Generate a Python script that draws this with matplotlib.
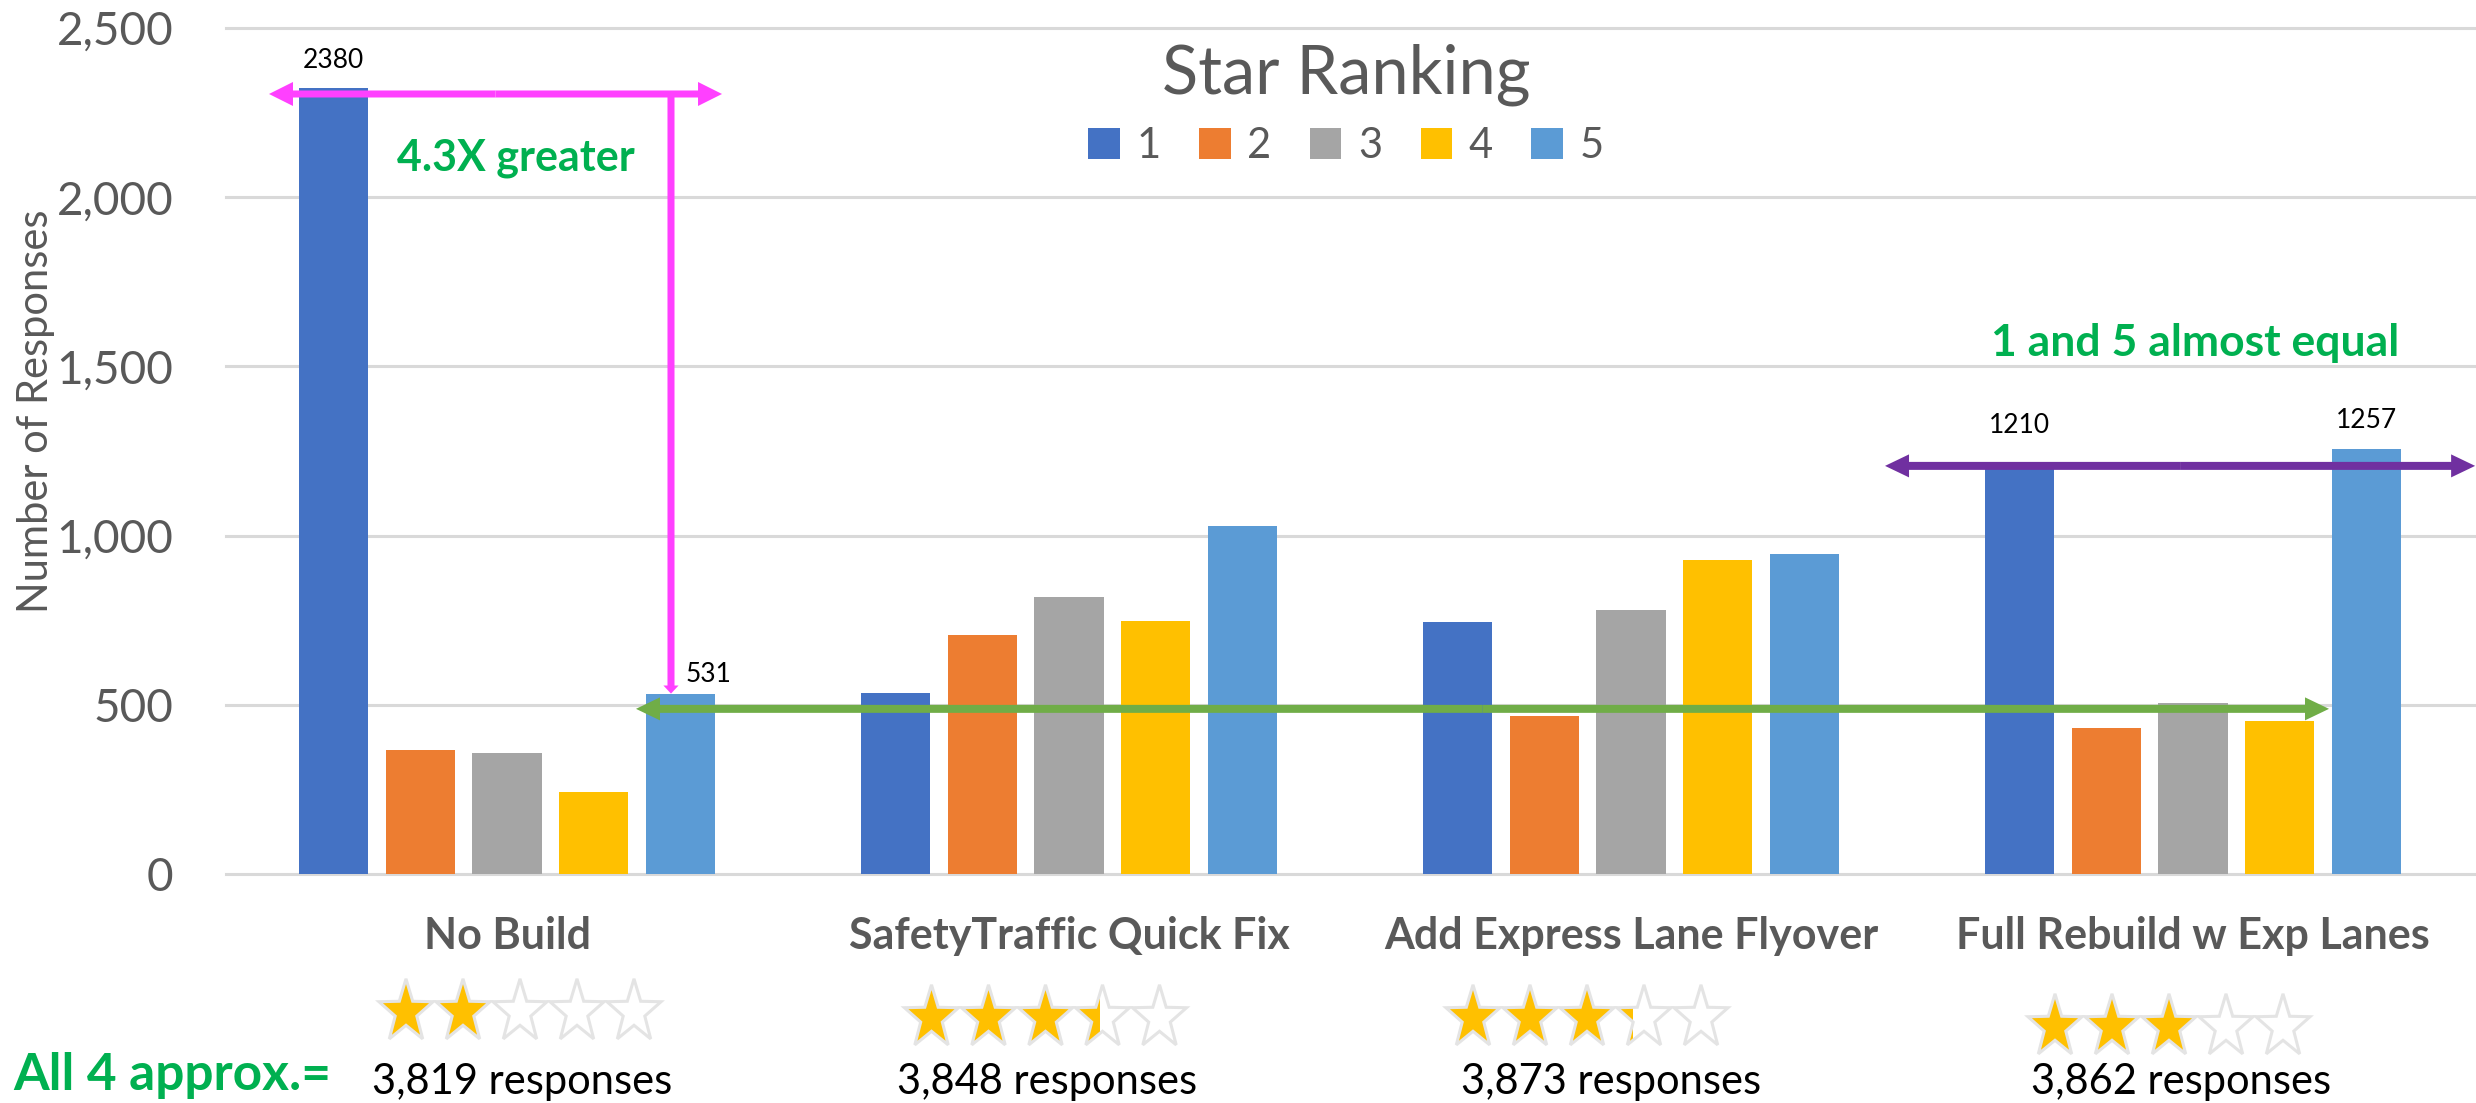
import numpy as np
import matplotlib.pyplot as plt
from matplotlib.patches import Patch, Polygon, FancyArrow, Rectangle
from matplotlib.ticker import StrMethodFormatter

plt.rcParams['font.family'] = ['Lato', 'DejaVu Sans']

# data
categories = ["No Build", "SafetyTraffic Quick Fix", "Add Express Lane Flyover", "Full Rebuild w Exp Lanes"]
rank_labels = ["1", "2", "3", "4", "5"]
rank1 = [2323, 535, 746, 1210]
rank2 = [366, 707, 466, 432]
rank3 = [358, 819, 779, 505]
rank4 = [241, 747, 927, 452]
rank5 = [531, 1029, 946, 1257]
responses = [3819, 3848, 3873, 3862]
avg_stars = [2.0, 3.45, 3.3, 3.0]
# hand-typed value labels on the chart: (group, rank index, text)
value_notes = [(0, 0, "2380"), (0, 4, "531"), (3, 0, "1210"), (3, 4, "1257")]

colors = ["#4472C4", "#ED7D31", "#A5A5A5", "#FFC000", "#5B9BD5"]
grey_txt = "#595959"
green_txt = "#00B050"

W, H = 2476, 1103
fig = plt.figure(figsize=(W / 100, H / 100), dpi=100)
ax = fig.add_axes([226 / W, 1 - 874 / H, 2248 / W, 846 / H])

series = [rank1, rank2, rank3, rank4, rank5]
x = np.arange(len(categories))
pitch, bw = 0.1545, 0.123
for j, vals in enumerate(series):
    ax.bar(x + (j - 2) * pitch, vals, width=bw, color=colors[j], zorder=2)

ax.set_xlim(-0.5, 3.5)
ax.set_ylim(0, 2500)
ax.set_yticks(range(0, 2501, 500))
ax.yaxis.set_major_formatter(StrMethodFormatter('{x:,.0f}'))
ax.yaxis.grid(True, color='#D9D9D9', lw=2.2)
for gl in ax.yaxis.get_gridlines():
    gl.set_clip_on(False)
ax.set_axisbelow(True)
for s in ax.spines.values():
    s.set_visible(False)
ax.tick_params(length=0)
ax.tick_params(axis='y', labelsize=33, labelcolor=grey_txt, pad=38)
ax.set_xticks(x)
ax.set_xticklabels(categories, fontsize=31, fontweight='bold', color=grey_txt)
ax.tick_params(axis='x', pad=30)
ax.set_ylabel("Number of Responses", fontsize=30, color=grey_txt)
ax.yaxis.set_label_coords(-0.076, 0.547)

# value notes above bars
note_off = {"2380": (0.0, 80), "531": (0.05, 60), "1210": (0.0, 115), "1257": (0.0, 82)}
for g, j, txt in value_notes:
    dx, dy = note_off[txt]
    ax.text(g + (j - 2) * pitch + dx, series[j][g] + dy, txt, fontsize=19,
            ha='center', va='center', color='black', zorder=5)


def harrow(x0, x1, y, color, width, hw, hl):
    mid = (x0 + x1) / 2
    for end in (x0, x1):
        ax.add_patch(FancyArrow(mid, y, end - mid, 0, width=width, head_width=hw,
                                head_length=hl, length_includes_head=True,
                                color=color, lw=0, zorder=4, clip_on=False))


# magenta: 4.3X comparison
harrow(-0.4235, 0.3826, 2305, '#FF40FF', 20.7, 71, 0.0427)
ax.add_patch(FancyArrow(0.2918, 2305, 0, 533 - 2305, width=0.0125, head_width=0.027,
                        head_length=24, length_includes_head=True, color='#FF40FF',
                        lw=0, zorder=4))
# green: all near 500
harrow(0.2295, 3.242, 488, '#70AD47', 23.6, 68, 0.0427)
# purple: 1 and 5 almost equal
harrow(2.452, 3.502, 1206, '#7030A0', 23.6, 68, 0.0427)

ax.text(0.016, 2116, "4.3X greater", fontsize=31, fontweight='bold', color=green_txt,
        ha='center', va='center', zorder=5)
ax.text(3.004, 1569, "1 and 5 almost equal", fontsize=32, fontweight='bold', color=green_txt,
        ha='center', va='center', zorder=5)

# legend with title
handles = [Patch(facecolor=c) for c in colors]
leg = ax.legend(handles, rank_labels, title="Star Ranking", ncol=5, loc='upper center',
                bbox_to_anchor=(1346 / W, 1 - 44 / H), bbox_transform=fig.transFigure,
                frameon=False, fontsize=30, title_fontsize=48, handlelength=0.76,
                handleheight=0.76, handletextpad=0.4, columnspacing=0.92,
                borderpad=0, borderaxespad=0, labelcolor=grey_txt)
leg.get_title().set_color(grey_txt)

# overlay in pixel coordinates for the star ratings and counts
ov = fig.add_axes([0, 0, 1, 1])
ov.set_xlim(0, W)
ov.set_ylim(H, 0)
ov.axis('off')

star_x0 = [406, 931.5, 1473, 2055]
star_y = [1012, 1018, 1018, 1027]
count_x = [522, 1047, 1611, 2181]
step, rx, ry = 57, 28.4, 33.2


def star_pts(cx, cy, inner=0.40):
    ang = np.pi / 2 + np.arange(10) * np.pi / 5
    r = np.where(np.arange(10) % 2 == 0, 1.0, inner)
    return np.column_stack([cx + rx * r * np.cos(ang), cy - ry * r * np.sin(ang)])


for g, rating in enumerate(avg_stars):
    for k in range(5):
        cx, cy = star_x0[g] + k * step, star_y[g]
        pts = star_pts(cx, cy)
        ov.add_patch(Polygon(pts, closed=True, facecolor='white', edgecolor='none'))
        frac = min(max(rating - k, 0), 1)
        if frac > 0:
            gold = Polygon(pts, closed=True, facecolor='#FFC000', edgecolor='none')
            ov.add_patch(gold)
            clip = Rectangle((cx - rx, cy - ry - 2), frac * 2 * rx * 0.951 + rx * 0.049,
                             2 * ry + 4, transform=ov.transData)
            gold.set_clip_path(clip)
        ov.add_patch(Polygon(pts, closed=True, facecolor='none', edgecolor='#E4E4E4', lw=2.2))
    ov.text(count_x[g], 1094, f"{responses[g]:,} responses", fontsize=30, color='black',
            ha='center', va='baseline')

ov.text(13, 1090, "All 4 approx.=", fontsize=37, fontweight='bold', color=green_txt,
        ha='left', va='baseline')

fig.savefig("out.png", dpi=100)
plt.close(fig)
